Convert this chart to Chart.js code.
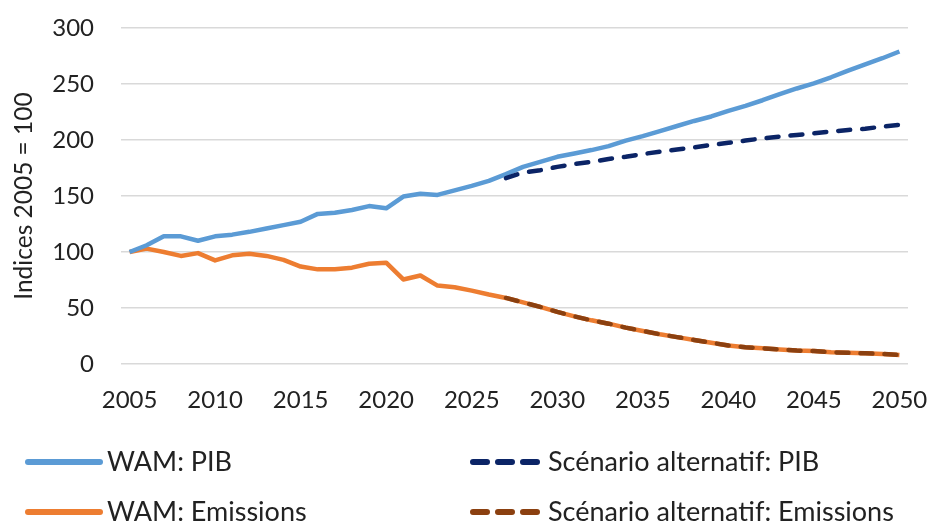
<!DOCTYPE html>
<html>
<head>
<meta charset="utf-8">
<script src="https://cdn.jsdelivr.net/npm/chart.js@4.4.1/dist/chart.umd.min.js"></script>
<style>
    html, body { margin: 0; padding: 0; background: #fff; }
    #wrap { position: relative; width: 931px; height: 521px; font-family: Lato, sans-serif; color: #222; overflow: hidden; }
    #chart { position: absolute; left: 0; top: 0; }
    .trait { position: absolute; }
    .txt { position: absolute; font-size: 27px; line-height: 30px; white-space: nowrap; }
</style>
</head>
<body>
<div id="wrap">
    <canvas id="chart" width="931" height="521"></canvas>
    <!-- légende -->
    <svg class="trait" style="left:22px; top:457px;" width="84" height="10"><line x1="6" y1="5" x2="78" y2="5" stroke="#5B9BD5" stroke-width="6" stroke-linecap="round"/></svg>
    <div class="txt" style="left:107px; top:446px;">WAM: PIB</div>
    <svg class="trait" style="left:465px; top:457px;" width="80" height="10"><line x1="8" y1="5" x2="74" y2="5" stroke="#0B2466" stroke-width="6" stroke-linecap="round" stroke-dasharray="14 11"/></svg>
    <div class="txt" style="left:548px; top:446px;">Scénario alternatif: PIB</div>
    <svg class="trait" style="left:22px; top:507px;" width="84" height="10"><line x1="6" y1="5" x2="78" y2="5" stroke="#ED7D31" stroke-width="6" stroke-linecap="round"/></svg>
    <div class="txt" style="left:107px; top:496px;">WAM: Emissions</div>
    <svg class="trait" style="left:465px; top:507px;" width="80" height="10"><line x1="8" y1="5" x2="74" y2="5" stroke="#8B4010" stroke-width="6" stroke-linecap="round" stroke-dasharray="14 11"/></svg>
    <div class="txt" style="left:548px; top:496px;">Scénario alternatif: Emissions</div>
</div>
<script>
// Données (indices 2005 = 100)
const annees = ['2005','2006','2007','2008','2009','2010','2011','2012','2013','2014',
    '2015','2016','2017','2018','2019','2020','2021','2022','2023','2024',
    '2025','2026','2027','2028','2029','2030','2031','2032','2033','2034',
    '2035','2036','2037','2038','2039','2040','2041','2042','2043','2044',
    '2045','2046','2047','2048','2049','2050'];

const wamPib = [100, 106, 114, 114, 110, 114, 115.5, 118, 121, 124,
    127, 134, 135, 137.5, 141, 139, 149.5, 152, 151, 155,
    159, 163.5, 169.5, 176, 180.5, 185, 188, 191, 194.5, 199.5,
    203.5, 208, 212.5, 217, 221, 226, 230.5, 235.5, 241, 246,
    250.5, 256, 262, 267.5, 273, 279];

const altPib = [null, null, null, null, null, null, null, null, null, null,
    null, null, null, null, null, null, null, null, null, null,
    null, null, 166, 171, 173, 176, 178.5, 180.5, 183, 185,
    187.5, 189.5, 191.5, 193.5, 195.5, 197.5, 199.5, 201.5, 203, 204.5,
    206, 207.5, 209, 210, 212, 213.5];

const wamEmissions = [100, 103, 100, 96.5, 99, 92.5, 97, 98.5, 96.5, 93,
    87, 84.5, 84.5, 86, 89.5, 90.5, 75.5, 79, 70, 68.5,
    65.5, 62, 59, 55, 51, 46.5, 42.5, 39, 36, 32.5,
    29.5, 26.5, 24, 21.5, 19, 16.5, 15, 14, 13, 12,
    11.5, 10.5, 10, 9.5, 9, 8];

const altEmissions = [null, null, null, null, null, null, null, null, null, null,
    null, null, null, null, null, null, null, null, null, null,
    null, null, 59, 55, 51, 46.5, 42.5, 39, 36, 32.5,
    29.5, 26.5, 24, 21.5, 19, 16.5, 15, 14, 13, 12,
    11.5, 10.5, 10, 9.5, 9, 8];

const yTicks = [0, 50, 100, 150, 200, 250, 300];

const police = { family: 'Lato, sans-serif', size: 24 };

new Chart(document.getElementById('chart').getContext('2d'), {
    type: 'line',
    data: {
        labels: annees,
        datasets: [
            {
                label: 'WAM: PIB',
                data: wamPib,
                borderColor: '#5B9BD5',
                borderWidth: 4.5,
                order: 3
            },
            {
                label: 'Scénario alternatif: PIB',
                data: altPib,
                borderColor: '#0B2466',
                borderWidth: 4.5,
                borderDash: [12, 12],
                borderCapStyle: 'round',
                order: 1
            },
            {
                label: 'WAM: Emissions',
                data: wamEmissions,
                borderColor: '#ED7D31',
                borderWidth: 4.5,
                order: 4
            },
            {
                label: 'Scénario alternatif: Emissions',
                data: altEmissions,
                borderColor: '#8B4010',
                borderWidth: 4.5,
                borderDash: [12, 12],
                borderCapStyle: 'round',
                order: 2
            }
        ]
    },
    options: {
        responsive: false,
        animation: false,
        elements: {
            point: { radius: 0 },
            line: { tension: 0, borderJoinStyle: 'round', fill: false }
        },
        layout: { padding: { left: 0, right: 23, top: 28, bottom: 97 } },
        plugins: {
            legend: { display: false },
            tooltip: { enabled: false }
        },
        scales: {
            x: {
                type: 'category',
                offset: true,
                // grille masquée, mais les marques servent d'écart pour les libellés
                grid: { display: false, drawTicks: true, tickLength: 20 },
                border: { display: false },
                ticks: {
                    autoSkip: false,
                    maxRotation: 0,
                    padding: 2,
                    color: '#222',
                    font: police,
                    callback: function(val, i) { return i % 5 === 0 ? annees[i] : ''; }
                },
                afterFit: function(scale) { scale.height = 60; }
            },
            y: {
                min: 0,
                max: 300,
                afterBuildTicks: function(scale) { scale.ticks = yTicks.map(v => ({ value: v })); },
                grid: { color: '#D9D9D9', lineWidth: 1.6, drawTicks: true, tickLength: 24, tickColor: 'rgba(0,0,0,0)' },
                border: { display: false },
                ticks: { padding: 3, color: '#222', font: police },
                title: {
                    display: true,
                    text: 'Indices 2005 = 100',
                    color: '#222',
                    font: { family: 'Lato, sans-serif', size: 24.5 },
                    padding: { top: 9 }
                },
                afterFit: function(scale) { scale.width = 121; }
            }
        }
    }
});
</script>
</body>
</html>
